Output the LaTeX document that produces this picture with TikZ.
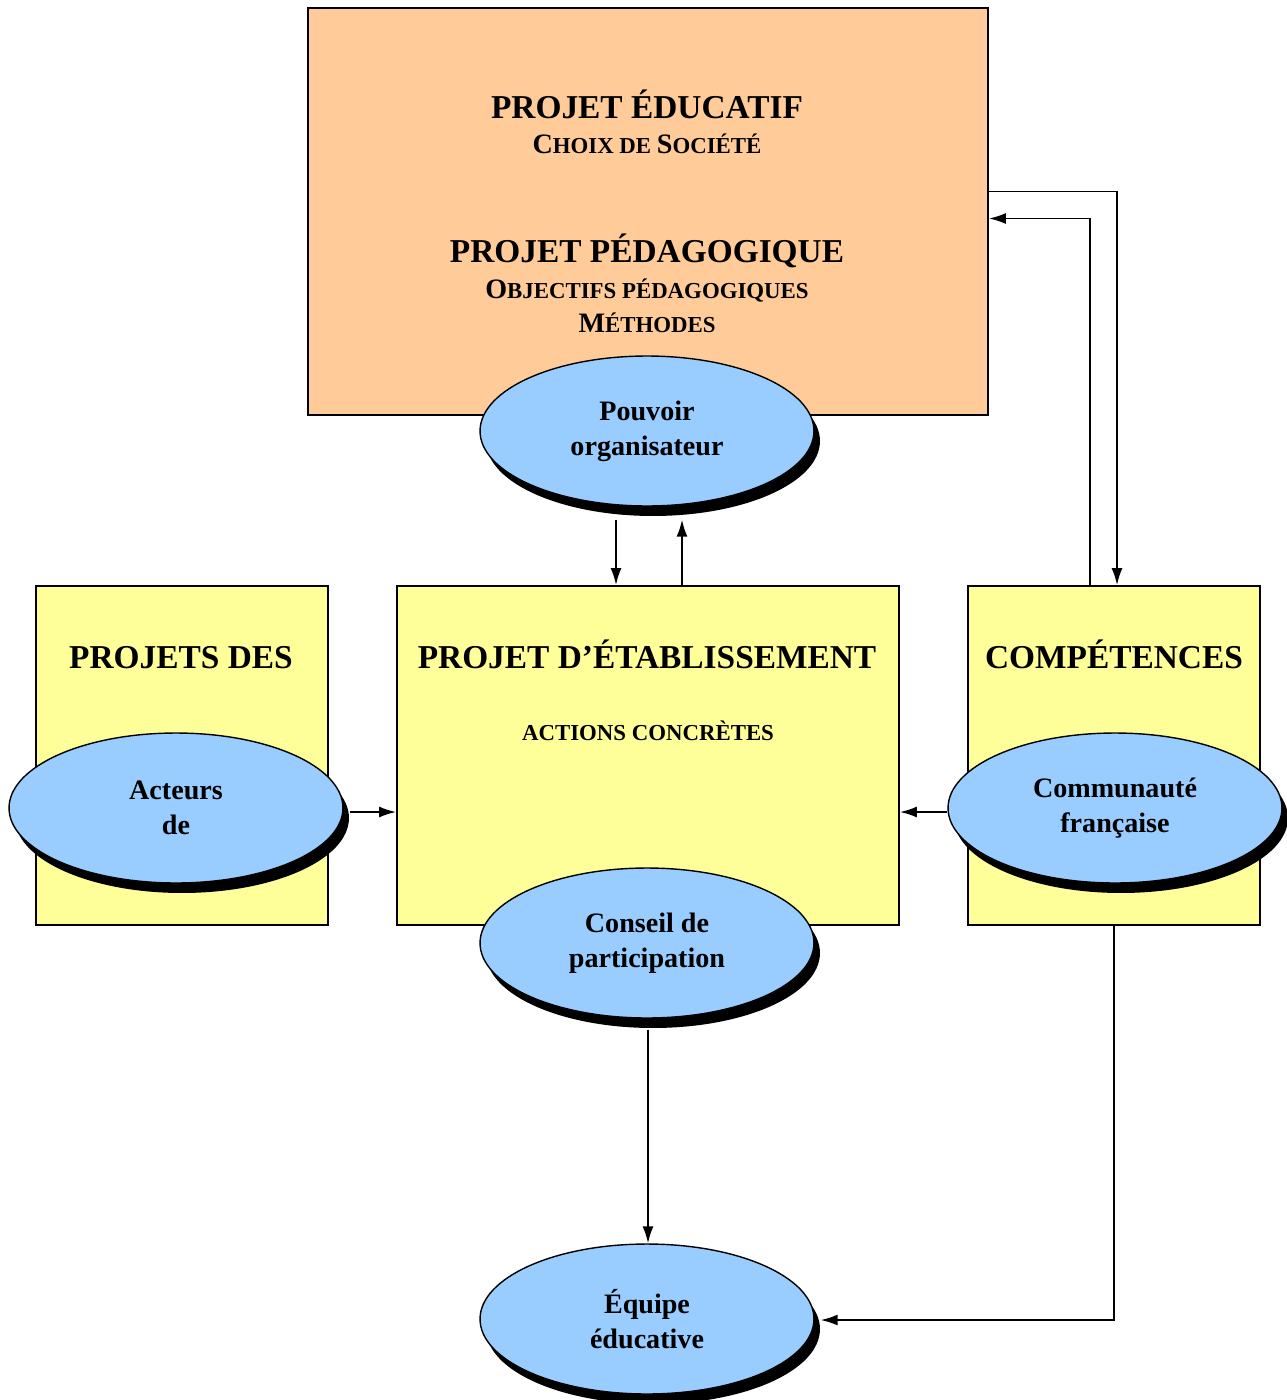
\documentclass[tikz,border=0pt]{standalone}
\usepackage{fontspec}
\setmainfont{Liberation Serif}
\usetikzlibrary{shapes.geometric,shadows,arrows.meta}

\definecolor{orangeclair}{HTML}{FFCC99}
\definecolor{jauneclair}{HTML}{FFFF99}
\definecolor{bleuclair}{HTML}{99CCFF}

% fausses petites capitales
\newcommand\grandpetit[2]{{\fontsize{16}{19}\selectfont #1}{\fontsize{13}{16}\selectfont #2}}

\tikzset{%
  >={Latex[length=3.4mm,width=2.2mm]},
  cadre/.style={draw, line width=1.1pt, inner sep=0pt},
  ovale/.style={ellipse, draw, line width=0.8pt, fill=bleuclair,
    minimum width=6.68cm, minimum height=3cm, inner sep=0pt, align=center,
    font=\fontsize{16}{20}\selectfont\bfseries,
    drop shadow={shadow xshift=0.12cm, shadow yshift=-0.2cm, fill=black, opacity=1}},
  grand/.style={anchor=base, font=\fontsize{19}{23}\selectfont\bfseries},
  petit/.style={anchor=base, font=\bfseries}
}

\begin{document}
\begin{tikzpicture}[x=0.02cm, y=-0.02cm, line width=1pt]
     \useasboundingbox (0,0) rectangle (1286,1400);

     % les cadres
     \node[cadre, fill=orangeclair, minimum width=13.6cm, minimum height=8.14cm] (edu) at (648,211.5) {};
     \node[cadre, fill=jauneclair, minimum width=5.84cm, minimum height=6.78cm] (desc) at (182,755.5) {};
     \node[cadre, fill=jauneclair, minimum width=10.04cm, minimum height=6.78cm] (etab) at (648,755.5) {};
     \node[cadre, fill=jauneclair, minimum width=5.84cm, minimum height=6.78cm] (comp) at (1114,755.5) {};

     \node[grand] (titreedu) at (647,118) {PROJET ÉDUCATIF};
     \node[petit] (choix) at (647,153) {\grandpetit{C}{HOIX DE }\grandpetit{S}{OCIÉTÉ}};
     \node[grand] (titreped) at (647,262) {PROJET PÉDAGOGIQUE};
     \node[petit] (objectifs) at (647,298) {\grandpetit{O}{BJECTIFS PÉDAGOGIQUES}};
     \node[petit] (methodes) at (647,332) {\grandpetit{M}{ÉTHODES}};

     \node[grand] (titredes) at (181,668) {PROJETS DES};
     \node[grand] (titreetab) at (647,668) {PROJET D’ÉTABLISSEMENT};
     \node[grand] (titrecomp) at (1114,668) {COMPÉTENCES};
     \node[anchor=base, font=\fontsize{13}{16}\selectfont\bfseries] (actions) at (648,740) {ACTIONS CONCRÈTES};

     % les acteurs
     \node[ovale] (po) at (647,431) {Pouvoir\\organisateur};
     \node[ovale] (act) at (176,808) {Acteurs\\de};
     \node[ovale] (com) at (1115,808) {Communauté\\française};
     \node[ovale] (cons) at (647,943) {Conseil de\\participation};
     \node[ovale] (equ) at (647,1319) {Équipe\\éducative};

     \coordinate (podown) at ([shift={(-31,13)}]po.south);
     \coordinate (poup) at ([shift={(35,13)}]po.south);
     \coordinate (actout) at ([shift={(6,4)}]act.east);
     \coordinate (comout) at ([shift={(0,4)}]com.west);

     \draw[->] (podown) -- (podown |- etab.north);
     \draw[->] (poup |- etab.north) -- (poup);
     \draw[->] (actout) -- (actout -| etab.west);
     \draw[->] (comout) -- (comout -| etab.east);
     \draw[->] ([shift={(1,11)}]cons.south) -- ([shift={(1,0)}]equ.north);
     \draw[->] (comp.south) |- ([shift={(6,1)}]equ.east);
     \draw[->] ([shift={(0,-20)}]edu.east) -| ([shift={(3,0)}]comp.north);
     \draw[->] ([shift={(-24,0)}]comp.north) |- ([shift={(0,7)}]edu.east);

\end{tikzpicture}
\end{document}
